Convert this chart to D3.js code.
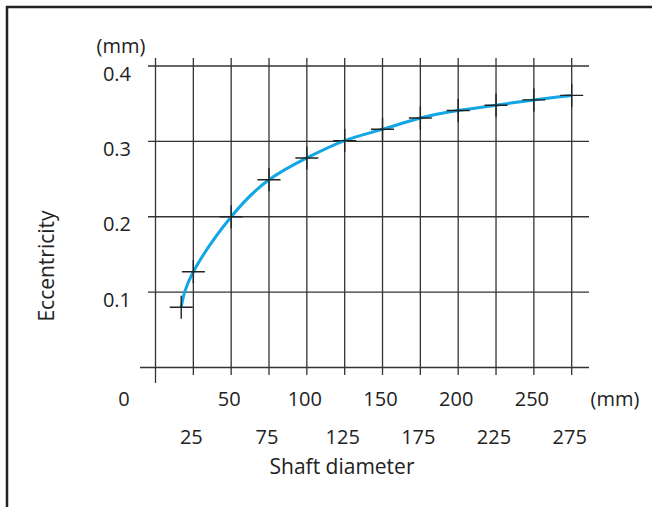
<!DOCTYPE html>
<html>
<head>
<meta charset="utf-8">
<script src="https://cdn.jsdelivr.net/npm/d3@7"></script>
<style>
  body { margin: 0; background: #fff; }
  text { font-family: "Open Sans", sans-serif; fill: #222; }
</style>
</head>
<body>
<div id="chart"></div>
<script>
// shaft diameter (mm) vs eccentricity (mm)
const diameters = [17, 25, 50, 75, 100, 125, 150, 175, 200, 225, 250, 275];
const eccentricity = [0.080, 0.127, 0.200, 0.249, 0.278, 0.301, 0.316, 0.331, 0.341, 0.348, 0.355, 0.361];

const xGrid = [0, 25, 50, 75, 100, 125, 150, 175, 200, 225, 250, 275];
const xTicksUpper = [50, 100, 150, 200, 250];
const xTicksLower = [25, 75, 125, 175, 225, 275];
const yTicks = [0, 0.1, 0.2, 0.3, 0.4];

const width = 652, height = 507;
const fontSize = 20;

const svg = d3.select('#chart').append('svg')
  .attr('width', width)
  .attr('height', height);

const x = d3.scaleLinear().domain([0, 275]).range([155.5, 571.7]);
const y = d3.scaleLinear().domain([0, 0.4]).range([367.5, 66]);

// frame (top + left only)
svg.append('path')
  .attr('d', `M7,${height} L7,7 L${width},7`)
  .attr('fill', 'none')
  .attr('stroke', '#222')
  .attr('stroke-width', 2.5);

const grid = svg.append('g').attr('stroke', '#333').attr('stroke-width', 1.3);

grid.selectAll('line.v')
  .data(xGrid)
  .join('line')
  .attr('class', 'v')
  .attr('x1', d => x(d)).attr('x2', d => x(d))
  .attr('y1', 58)
  .attr('y2', d => d === 0 ? 383 : 375);

grid.selectAll('line.h')
  .data(yTicks)
  .join('line')
  .attr('class', 'h')
  .attr('x1', d => d === 0 ? 140 : 148)
  .attr('x2', 589)
  .attr('y1', d => y(d)).attr('y2', d => y(d));

// y tick labels
svg.selectAll('text.ylab')
  .data(yTicks.filter(d => d > 0))
  .join('text')
  .attr('class', 'ylab')
  .attr('x', 131)
  .attr('y', d => y(d) + 7.5)
  .attr('dy', '0.35em')
  .attr('text-anchor', 'end')
  .style('font-size', fontSize + 'px')
  .text(d => d3.format('.1f')(d));

svg.append('text')
  .attr('x', 121).attr('y', 45.5).attr('dy', '0.35em')
  .attr('text-anchor', 'middle')
  .style('font-size', fontSize + 'px')
  .text('(mm)');

// x tick labels, two staggered rows
svg.selectAll('text.xup')
  .data(xTicksUpper)
  .join('text')
  .attr('class', 'xup')
  .attr('x', d => x(d) - 2)
  .attr('y', 399).attr('dy', '0.35em')
  .attr('text-anchor', 'middle')
  .style('font-size', fontSize + 'px')
  .text(d => d);

svg.selectAll('text.xlow')
  .data(xTicksLower)
  .join('text')
  .attr('class', 'xlow')
  .attr('x', d => x(d) - 2)
  .attr('y', 437).attr('dy', '0.35em')
  .attr('text-anchor', 'middle')
  .style('font-size', fontSize + 'px')
  .text(d => d);

svg.append('text')
  .attr('x', 124).attr('y', 399).attr('dy', '0.35em')
  .attr('text-anchor', 'middle')
  .style('font-size', fontSize + 'px')
  .text('0');

svg.append('text')
  .attr('x', 615).attr('y', 399).attr('dy', '0.35em')
  .attr('text-anchor', 'middle')
  .style('font-size', fontSize + 'px')
  .text('(mm)');

// axis titles
svg.append('text')
  .attr('x', 342).attr('y', 467).attr('dy', '0.35em')
  .attr('text-anchor', 'middle')
  .style('font-size', '21px')
  .text('Shaft diameter');

svg.append('text')
  .attr('transform', 'translate(46.5,266) rotate(-90)')
  .attr('dy', '0.35em')
  .attr('text-anchor', 'middle')
  .style('font-size', '21px')
  .text('Eccentricity');

const points = diameters.map((d, i) => ({ d, e: eccentricity[i] }));

// fitted curve
svg.append('path')
  .datum(points)
  .attr('fill', 'none')
  .attr('stroke', '#12a6e4')
  .attr('stroke-width', 3)
  .attr('d', d3.line().x(p => x(p.d)).y(p => y(p.e)).curve(d3.curveNatural));

// measured points as crosses
const marks = svg.append('g').attr('stroke', '#222').attr('stroke-width', 1.4);
marks.selectAll('path')
  .data(points)
  .join('path')
  .attr('d', p => {
    const cx = x(p.d), cy = y(p.e), r = 11.5;
    return `M${cx - r},${cy} H${cx + r} M${cx},${cy - r} V${cy + r}`;
  });
</script>
</body>
</html>
